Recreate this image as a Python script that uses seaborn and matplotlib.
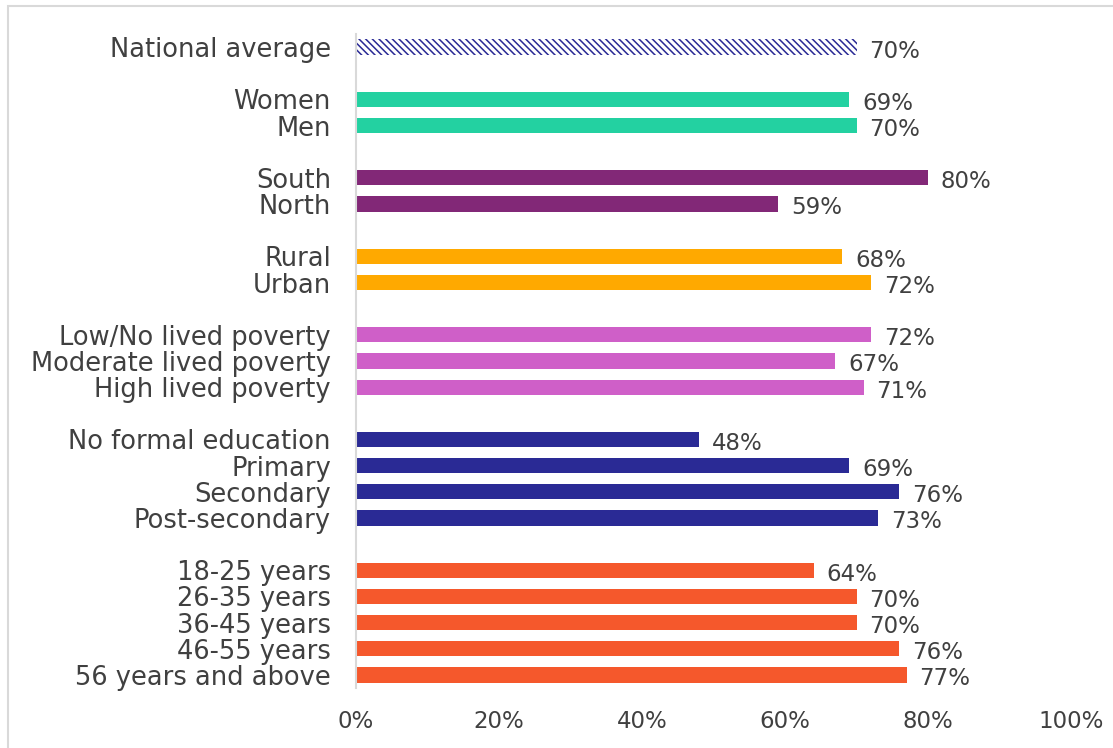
import matplotlib.pyplot as plt
import matplotlib.patches as mpatches
import numpy as np
import pandas as pd
import seaborn as sns

# ---- data ----
labels = ['National average',
          'Women', 'Men',
          'South', 'North',
          'Rural', 'Urban',
          'Low/No lived poverty', 'Moderate lived poverty', 'High lived poverty',
          'No formal education', 'Primary', 'Secondary', 'Post-secondary',
          '18-25 years', '26-35 years', '36-45 years', '46-55 years', '56 years and above']
values = [70,
          69, 70,
          80, 59,
          68, 72,
          72, 67, 71,
          48, 69, 76, 73,
          64, 70, 70, 76, 77]
groups = ['national',
          'gender', 'gender',
          'region', 'region',
          'location', 'location',
          'poverty', 'poverty', 'poverty',
          'education', 'education', 'education', 'education',
          'age', 'age', 'age', 'age', 'age']
group_colors = {'national': '#FFFFFF', 'gender': '#23D1A1', 'region': '#822877',
                'location': '#FFA900', 'poverty': '#CF5FC8', 'education': '#2A2A95',
                'age': '#F5582C'}
hatch_color = '#2A2A95'
text_color = '#404040'

df = pd.DataFrame({'label': labels, 'value': values, 'group': groups})

# order with blank spacer rows between groups
order = []
spacer = 0
prev = None
for lab, g in zip(labels, groups):
    if prev is not None and g != prev:
        spacer += 1
        order.append(' ' * spacer)
    order.append(lab)
    prev = g

# ---- plot ----
sns.set_style('white')
plt.rcParams['font.family'] = ['DejaVu Sans']
plt.rcParams['hatch.linewidth'] = 1.1

fig = plt.figure(figsize=(11.13, 7.48), dpi=100)
ax = fig.add_axes([356 / 1113, 1 - 688 / 748, (1071 - 356) / 1113, (688 - 34) / 748])

sns.barplot(data=df, x='value', y='label', hue='group', order=order,
            palette=group_colors, dodge=False, width=0.58, legend=False,
            saturation=1, linewidth=0, ax=ax)

# hatched national average bar
for p in ax.patches:
    if p.get_facecolor()[:3] == (1.0, 1.0, 1.0) and p.get_width() > 0:
        p.set_hatch('\\\\\\\\\\')
        p.set_edgecolor(hatch_color)
        p.set_linewidth(0)

# value labels
pos = {lab: i for i, lab in enumerate(order)}
for lab, v in zip(labels, values):
    ax.text(v + 1.8, pos[lab] + 0.15, f'{v}%', va='center', ha='left',
            fontsize=16.5, color=text_color)

ax.set_xlim(0, 100)
ax.set_ylim(len(order) - 0.5, -0.5)
ax.set_xticks(np.arange(0, 101, 20))
ax.set_xticklabels([f'{t}%' for t in range(0, 101, 20)])
ax.tick_params(axis='x', length=0, pad=16, labelsize=16.5, labelcolor=text_color)
ax.tick_params(axis='y', length=0, pad=18, labelsize=18.5, labelcolor=text_color)
ax.set_xlabel('')
ax.set_ylabel('')
for s in ['top', 'right', 'bottom']:
    ax.spines[s].set_visible(False)
ax.spines['left'].set_color('#D9D9D9')
ax.spines['left'].set_linewidth(1.5)

# outer chart border (partially cropped in the reference)
fig.patches.append(mpatches.Rectangle((8 / 1113, -0.01), 1.05, 1 - 6 / 748 + 0.01,
                                      transform=fig.transFigure, fill=False,
                                      edgecolor='#D9D9D9', linewidth=1.5))

fig.savefig('out.png', dpi=100)
